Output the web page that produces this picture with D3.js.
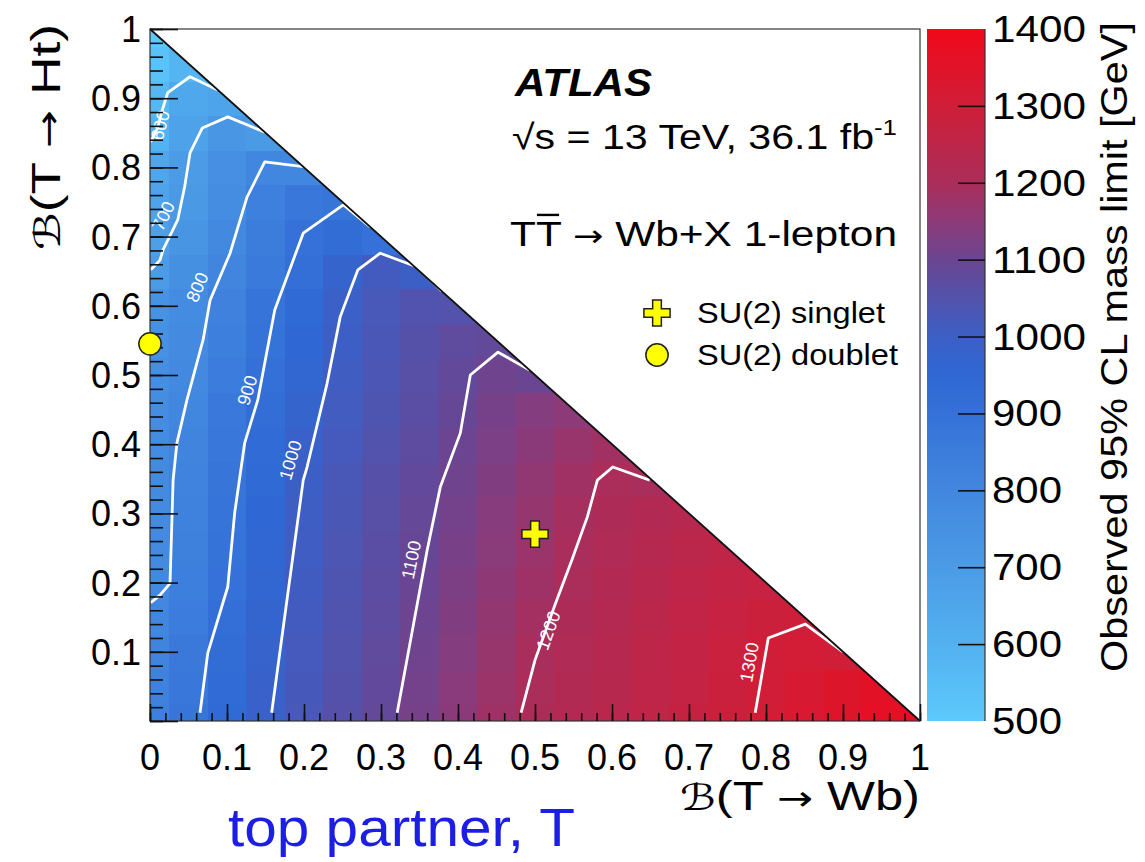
<!DOCTYPE html>
<html>
<head>
<meta charset="utf-8">
<script src="https://cdn.jsdelivr.net/npm/d3@7"></script>
<style>
  body { margin: 0; background: #fff; }
  text { font-family: "Liberation Sans", Arial, Helvetica, sans-serif; }
</style>
</head>
<body>
<svg id="chart" width="1145" height="862"></svg>
<script>
// bin centres on both axes, B(T->Wb) and B(T->Ht)
var brWb = [0,0.05,0.1,0.15,0.2,0.25,0.3,0.35,0.4,0.45,0.5,0.55,0.6,0.65,0.7,0.75,0.8,0.85,0.9,0.95,1];
var brHt = [0,0.05,0.1,0.15,0.2,0.25,0.3,0.35,0.4,0.45,0.5,0.55,0.6,0.65,0.7,0.75,0.8,0.85,0.9,0.95,1];

// observed mass limit [GeV], one row per B(Ht) bin, columns along B(Wb)
var limitRows = [
  [830,880,940,990,1025,1056,1087,1118,1149,1180,1206,1222,1239,1255,1272,1288,1305,1325,1345,1365,1380],
  [825,870,930,985,1022,1052,1083,1114,1145,1175,1203,1219,1235,1252,1268,1285,1303,1322,1342,1360],
  [815,865,925,980,1019,1048,1078,1108,1138,1168,1198,1215,1232,1250,1266,1283,1300,1310,1300],
  [805,850,910,970,1015,1044,1074,1104,1133,1162,1189,1208,1226,1243,1260,1275,1288,1295],
  [790,835,898,962,1011,1040,1070,1099,1127,1154,1180,1202,1220,1237,1252,1265,1275],
  [785,828,890,955,1007,1036,1065,1094,1121,1147,1173,1198,1215,1230,1243,1255],
  [782,822,885,948,1004,1032,1061,1089,1115,1141,1166,1191,1208,1222,1232],
  [780,818,880,940,1001,1028,1056,1083,1107,1133,1158,1183,1203,1198],
  [775,812,872,930,988,1020,1048,1073,1101,1125,1148,1170,1185],
  [770,806,862,915,975,1012,1040,1066,1092,1118,1138,1150],
  [762,792,850,903,963,1008,1035,1060,1085,1108,1100],
  [752,785,838,893,950,1002,1030,1055,1075,1085],
  [740,775,826,885,940,997,1025,1045,1050],
  [700,755,808,860,912,975,1015,1000],
  [680,730,790,845,902,925,900],
  [665,712,770,830,870,880],
  [650,702,760,802,800],
  [595,670,725,705],
  [570,640,660],
  [530,585],
  [500]
];

// contour lines, [B(Wb), B(Ht)] points
var c600 = [[0.001,0.837],[0.010,0.857],[0.016,0.883],[0.023,0.908],[0.052,0.931],[0.088,0.912]];
var c700 = [[0.001,0.652],[0.013,0.666],[0.017,0.681],[0.036,0.724],[0.045,0.772],[0.052,0.821],[0.068,0.857],[0.101,0.873],[0.149,0.851]];
var c800 = [[0.001,0.171],[0.013,0.182],[0.026,0.199],[0.030,0.348],[0.035,0.402],[0.048,0.464],[0.069,0.551],[0.078,0.608],[0.104,0.676],[0.126,0.757],[0.149,0.808],[0.199,0.801]];
var c900 = [[0.065,0.012],[0.075,0.098],[0.101,0.194],[0.110,0.301],[0.123,0.402],[0.140,0.464],[0.162,0.594],[0.199,0.705],[0.251,0.746],[0.286,0.714]];
var c1000 = [[0.158,0.012],[0.199,0.348],[0.204,0.367],[0.230,0.488],[0.247,0.584],[0.270,0.652],[0.299,0.676],[0.347,0.656],[0.379,0.621]];
var c1100 = [[0.321,0.012],[0.360,0.247],[0.377,0.338],[0.403,0.416],[0.416,0.500],[0.452,0.533],[0.493,0.507]];
var c1200 = [[0.482,0.012],[0.500,0.088],[0.526,0.168],[0.548,0.233],[0.568,0.295],[0.581,0.348],[0.601,0.367],[0.649,0.348]];
var c1300 = [[0.786,0.012],[0.803,0.120],[0.851,0.140],[0.900,0.100]];

var contourLevels = [600,700,800,900,1000,1100,1200,1300];
var contourLines = [c600,c700,c800,c900,c1000,c1100,c1200,c1300];
var contourLabelAt = [[0.013,0.861],[0.017,0.730],[0.061,0.627],[0.126,0.478],[0.182,0.377],[0.339,0.233],[0.517,0.131],[0.778,0.085]];

// benchmark points
var singlet = [0.5, 0.27];
var doublet = [0, 0.545];

var axisTicks = [0,0.1,0.2,0.3,0.4,0.5,0.6,0.7,0.8,0.9,1];
var zTicks = [500,600,700,800,900,1000,1100,1200,1300,1400];

var paletteLevels = [500,600,700,800,900,950,1000,1100,1150,1200,1300,1400];
var paletteColors = ["#5cc9fb","#53b1f0","#4b9be6","#4287df","#3571d8","#2f68d4","#3c5fc6","#6a4592","#8c3a78","#aa2d5a","#d01e38","#f0081a"];

var plot = {left: 150, right: 920, top: 29, bottom: 721};

var x = d3.scaleLinear().domain([0, 1]).range([plot.left, plot.right]);
var y = d3.scaleLinear().domain([0, 1]).range([plot.bottom, plot.top]);
var z = d3.scaleLinear().domain([500, 1400]).range([plot.bottom, plot.top]);
var color = d3.scaleLinear().domain(paletteLevels).range(paletteColors).clamp(true);

var svg = d3.select("#chart");
var defs = svg.append("defs");

// triangle B(Wb)+B(Ht) <= 1
defs.append("clipPath").attr("id", "tri")
  .append("path")
  .attr("d", d3.line()([[x(0), y(0)], [x(1), y(0)], [x(0), y(1)]]) + "Z");

var cells = [];
limitRows.forEach(function(row, j) {
  row.forEach(function(v, i) {
    cells.push({wb: brWb[i], ht: brHt[j], v: v});
  });
});

var half = 0.025;
svg.append("g")
    .attr("clip-path", "url(#tri)")
  .selectAll("rect")
    .data(cells)
  .enter().append("rect")
    .attr("x", function(d) { return x(d.wb - half); })
    .attr("y", function(d) { return y(d.ht + half); })
    .attr("width", x(2 * half) - x(0) + 0.6)
    .attr("height", y(0) - y(2 * half) + 0.6)
    .attr("fill", function(d) { return color(d.v); })
    .attr("shape-rendering", "crispEdges");

// contours
var line = d3.line()
    .x(function(d) { return x(d[0]); })
    .y(function(d) { return y(d[1]); });

var cg = svg.append("g").attr("clip-path", "url(#tri)");
cg.selectAll("path")
    .data(contourLines)
  .enter().append("path")
    .attr("d", line)
    .attr("fill", "none")
    .attr("stroke", "#fff")
    .attr("stroke-width", 2.8)
    .attr("stroke-linejoin", "round");

// label angle follows the nearest segment of its line
function labelAngle(pts, at) {
  var px = x(at[0]), py = y(at[1]);
  var best = null, bestD = Infinity;
  for (var k = 0; k < pts.length - 1; k++) {
    var mx = (x(pts[k][0]) + x(pts[k + 1][0])) / 2,
        my = (y(pts[k][1]) + y(pts[k + 1][1])) / 2;
    var dd = (mx - px) * (mx - px) + (my - py) * (my - py);
    if (dd < bestD) { bestD = dd; best = k; }
  }
  var a = Math.atan2(y(pts[best + 1][1]) - y(pts[best][1]), x(pts[best + 1][0]) - x(pts[best][0])) * 180 / Math.PI;
  if (a > 90) a -= 180;
  if (a < -90) a += 180;
  return a;
}

contourLevels.forEach(function(lev, k) {
  var at = contourLabelAt[k];
  var a = labelAngle(contourLines[k], at);
  svg.append("text")
    .attr("transform", "translate(" + x(at[0]) + "," + y(at[1]) + ") rotate(" + a + ")")
    .attr("text-anchor", "middle")
    .attr("dy", "0.36em")
    .attr("font-size", 18)
    .attr("fill", "#fff")
    .text(lev);
});

// diagonal and frame
svg.append("line")
  .attr("x1", x(0)).attr("y1", y(1))
  .attr("x2", x(1)).attr("y2", y(0))
  .attr("stroke", "#111").attr("stroke-width", 1.8);

svg.append("rect")
  .attr("x", plot.left).attr("y", plot.top)
  .attr("width", plot.right - plot.left).attr("height", plot.bottom - plot.top)
  .attr("fill", "none").attr("stroke", "#333").attr("stroke-width", 1.2);

// ticks, drawn inwards like ROOT
function cleanAxis(g) { g.select(".domain").remove(); g.selectAll("line").attr("stroke", "#111").attr("stroke-width", 1.6); }

var minor = d3.range(51).map(function(i) { return i / 50; });

svg.append("g").attr("transform", "translate(" + plot.left + ",0)")
  .call(d3.axisRight(y).tickValues(minor).tickSize(13).tickFormat(""))
  .call(cleanAxis);
svg.append("g").attr("transform", "translate(" + plot.left + ",0)")
  .call(d3.axisRight(y).tickValues(axisTicks).tickSize(28).tickFormat(""))
  .call(cleanAxis);
svg.append("g").attr("transform", "translate(0," + plot.bottom + ")")
  .call(d3.axisTop(x).tickValues(minor).tickSize(8).tickFormat(""))
  .call(cleanAxis);
svg.append("g").attr("transform", "translate(0," + plot.bottom + ")")
  .call(d3.axisTop(x).tickValues(axisTicks).tickSize(17).tickFormat(""))
  .call(cleanAxis);

var fmt = d3.format("~g");

// tick labels
svg.append("g").selectAll("text")
    .data(axisTicks.slice(1))
  .enter().append("text")
    .attr("x", 141)
    .attr("y", function(d) { return y(d); })
    .attr("dy", "0.36em")
    .attr("text-anchor", "end")
    .attr("font-size", 36)
    .text(fmt);

svg.append("g").selectAll("text")
    .data(axisTicks)
  .enter().append("text")
    .attr("x", function(d) { return x(d); })
    .attr("y", 770)
    .attr("text-anchor", "middle")
    .attr("font-size", 36)
    .text(fmt);

// axis titles
var scriptFont = "DejaVu Sans, sans-serif";
var arrowFont = "DejaVu Sans, sans-serif";

function branchTitle(sel, decay) {
  sel.append("tspan").attr("font-family", scriptFont).attr("font-style", "italic").attr("font-size", 36).text("ℬ");
  sel.append("tspan").text("(T ");
  sel.append("tspan").attr("font-family", arrowFont).attr("font-size", 34).text("→");
  sel.append("tspan").text(" " + decay + ")");
}

svg.append("text")
  .attr("transform", "translate(60,24) rotate(-90)")
  .attr("text-anchor", "end")
  .attr("font-size", 40)
  .attr("textLength", 226).attr("lengthAdjust", "spacingAndGlyphs")
  .call(branchTitle, "Ht");

svg.append("text")
  .attr("x", 920).attr("y", 810)
  .attr("text-anchor", "end")
  .attr("font-size", 40)
  .attr("textLength", 240).attr("lengthAdjust", "spacingAndGlyphs")
  .call(branchTitle, "Wb");

// colour bar
var grad = defs.append("linearGradient").attr("id", "zgrad")
  .attr("x1", 0).attr("y1", 1).attr("x2", 0).attr("y2", 0);
paletteLevels.forEach(function(v, i) {
  grad.append("stop").attr("offset", (v - 500) / 900).attr("stop-color", paletteColors[i]);
});

var cbLeft = 927, cbRight = 985;
svg.append("rect")
  .attr("x", cbLeft).attr("y", plot.top)
  .attr("width", cbRight - cbLeft).attr("height", plot.bottom - plot.top)
  .attr("fill", "url(#zgrad)");

svg.append("line")
  .attr("x1", cbRight).attr("x2", cbRight)
  .attr("y1", plot.top).attr("y2", plot.bottom)
  .attr("stroke", "#333").attr("stroke-width", 1.2);

svg.append("g").attr("transform", "translate(" + cbRight + ",0)")
  .call(d3.axisLeft(z).tickValues(zTicks.slice(1, -1)).tickSize(27).tickFormat(""))
  .call(cleanAxis);

svg.append("g").selectAll("text")
    .data(zTicks)
  .enter().append("text")
    .attr("x", 992)
    .attr("y", function(d) { return z(d); })
    .attr("dy", "0.36em")
    .attr("font-size", 36)
    .attr("textLength", function(d) { return d >= 1000 ? 94 : 70; })
    .attr("lengthAdjust", "spacingAndGlyphs")
    .text(function(d) { return d; });

svg.append("text")
  .attr("transform", "translate(1127,22) rotate(-90)")
  .attr("text-anchor", "end")
  .attr("font-size", 36)
  .attr("textLength", 650)
  .attr("lengthAdjust", "spacingAndGlyphs")
  .text("Observed 95% CL mass limit [GeV]");

// labels in the empty corner
svg.append("text")
  .attr("x", 515).attr("y", 96)
  .attr("font-size", 38).attr("font-weight", "bold").attr("font-style", "italic")
  .attr("textLength", 137).attr("lengthAdjust", "spacingAndGlyphs")
  .text("ATLAS");

var lumi = svg.append("text")
  .attr("x", 512).attr("y", 149)
  .attr("font-size", 35)
  .attr("textLength", 385).attr("lengthAdjust", "spacingAndGlyphs");
lumi.append("tspan").text("√s = 13 TeV, 36.1 fb");
lumi.append("tspan").attr("font-size", 22).attr("dy", -14).text("-1");

var proc = svg.append("text")
  .attr("x", 510).attr("y", 246)
  .attr("font-size", 35)
  .attr("textLength", 387).attr("lengthAdjust", "spacingAndGlyphs");
proc.append("tspan").text("TT ");
proc.append("tspan").attr("font-family", arrowFont).attr("font-size", 30).text("→");
proc.append("tspan").text(" Wb+X 1-lepton");
var ext = proc.node().getExtentOfChar(1);
svg.append("line")
  .attr("x1", ext.x + 1).attr("x2", ext.x + ext.width - 2)
  .attr("y1", 246 - 0.716 * 35 - 6).attr("y2", 246 - 0.716 * 35 - 6)
  .attr("stroke", "#000").attr("stroke-width", 2.4);

// benchmark markers
var crossSym = d3.symbol().type(d3.symbolCross).size(380);
var circSym = d3.symbol().type(d3.symbolCircle).size(390);

svg.append("path")
  .attr("transform", "translate(" + x(singlet[0]) + "," + y(singlet[1]) + ")")
  .attr("d", crossSym())
  .attr("fill", "#ffff00").attr("stroke", "#222").attr("stroke-width", 1.5);
svg.append("path")
  .attr("transform", "translate(" + x(doublet[0]) + "," + y(doublet[1]) + ")")
  .attr("d", circSym())
  .attr("fill", "#ffff00").attr("stroke", "#222").attr("stroke-width", 1.5);

// legend
svg.append("path")
  .attr("transform", "translate(657,313)")
  .attr("d", crossSym())
  .attr("fill", "#ffff00").attr("stroke", "#222").attr("stroke-width", 1.5);
svg.append("path")
  .attr("transform", "translate(657,355)")
  .attr("d", circSym())
  .attr("fill", "#ffff00").attr("stroke", "#222").attr("stroke-width", 1.5);

svg.append("text")
  .attr("x", 697).attr("y", 323)
  .attr("font-size", 30)
  .attr("textLength", 188).attr("lengthAdjust", "spacingAndGlyphs")
  .text("SU(2) singlet");
svg.append("text")
  .attr("x", 697).attr("y", 365)
  .attr("font-size", 30)
  .attr("textLength", 201).attr("lengthAdjust", "spacingAndGlyphs")
  .text("SU(2) doublet");

// caption under the plot
svg.append("text")
  .attr("x", 228).attr("y", 846)
  .attr("font-family", "Lato, 'Open Sans', sans-serif")
  .attr("font-size", 54)
  .attr("fill", "#1c1ee6")
  .attr("textLength", 347).attr("lengthAdjust", "spacingAndGlyphs")
  .text("top partner, T");
</script>
</body>
</html>
